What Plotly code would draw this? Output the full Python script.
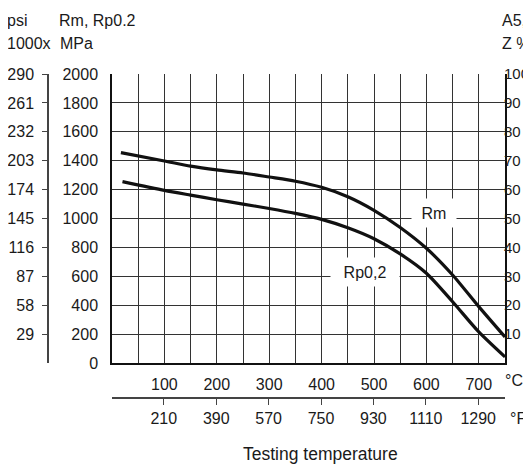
import plotly.graph_objects as go

# ---- data ----
temp_rm = [17, 100, 150, 200, 250, 300, 350, 400, 450, 500, 550, 600, 650, 700, 750]
rm_mpa = [1456, 1398, 1362, 1336, 1315, 1287, 1258, 1216, 1151, 1057, 938, 794, 609, 390, 180]
temp_rp = [20, 100, 150, 200, 250, 300, 350, 400, 450, 500, 550, 600, 650, 700, 750]
rp_mpa = [1255, 1195, 1162, 1130, 1100, 1069, 1035, 994, 936, 860, 755, 621, 424, 215, 42]

c_ticks = list(range(0, 751, 50))
c_labels = [str(v) if (v % 100 == 0 and 100 <= v <= 700) else "" for v in c_ticks]
f_labels = [210, 390, 570, 750, 930, 1110, 1290]
mpa_ticks = list(range(0, 2001, 200))
psi_ticks = [200, 400, 600, 800, 1000, 1200, 1400, 1600, 1800, 2000]
psi_labels = ["29", "58", "87", "116", "145", "174", "203", "232", "261", "290"]
pct_ticks = [10, 20, 30, 40, 50, 60, 70, 80, 90, 100]

FONT = "Liberation Sans, Arial, sans-serif"
FS = 16
TXT = "#1a1a1a"
GRID = "#333333"

OFF = 8  # page body margin
W, H = 531 - OFF, 465 - OFF
ML, MR, MT, MB = 30, 8, 66, 25
PW = W - ML - MR
PH = H - MT - MB


def px(x):
    # page pixel x -> paper fraction
    return (x - OFF - ML) / PW


def py(y):
    # page pixel y -> paper fraction
    return (H - MB - (y - OFF)) / PH


x_dom = [px(112), px(505)]
y_dom0 = py(363)

fig = go.Figure()
fig.add_trace(go.Scatter(x=temp_rm, y=rm_mpa, mode="lines",
                         line=dict(color="#111111", width=3.2, shape="spline", smoothing=0.7),
                         showlegend=False, hoverinfo="skip"))
fig.add_trace(go.Scatter(x=temp_rp, y=rp_mpa, mode="lines",
                         line=dict(color="#111111", width=3.2, shape="spline", smoothing=0.7),
                         showlegend=False, hoverinfo="skip"))

fig.update_layout(
    width=W, height=H,
    margin=dict(l=ML, r=MR, t=MT, b=MB, autoexpand=False),
    paper_bgcolor="white", plot_bgcolor="white",
    font=dict(family=FONT, size=FS, color=TXT),
    showlegend=False,
    xaxis=dict(domain=x_dom, range=[0, 750], tickmode="array",
               tickvals=c_ticks, ticktext=c_labels, automargin=False,
               showgrid=True, gridcolor=GRID, gridwidth=1,
               showline=True, linecolor="#111111", linewidth=2,
               ticks="outside", ticklen=6, tickcolor="rgba(0,0,0,0)",
               zeroline=False, fixedrange=True),
    yaxis=dict(domain=[y_dom0, 1], range=[0, 2000], tickmode="array",
               tickvals=mpa_ticks, ticktext=[str(v) for v in mpa_ticks], automargin=False,
               showgrid=True, gridcolor=GRID, gridwidth=1,
               showline=True, linecolor="#111111", linewidth=1.5, mirror=True,
               ticks="outside", ticklen=9, tickcolor="rgba(0,0,0,0)",
               zeroline=False, fixedrange=True),
    yaxis2=dict(overlaying="y", anchor="free", position=px(48), side="left",
                range=[0, 2000], tickmode="array", tickvals=psi_ticks, ticktext=psi_labels,
                showgrid=False, showline=True, linecolor="#444444", linewidth=1.5,
                automargin=False,
                ticks="outside", ticklen=5, tickcolor="#444444", zeroline=False,
                ticklabelstandoff=5),
    yaxis3=dict(overlaying="y", anchor="free", position=px(503), side="right",
                range=[0, 100], automargin=False,
                tickmode="array", tickvals=pct_ticks, ticktext=[str(v) for v in pct_ticks],
                tickfont=dict(size=15),
                showgrid=False, showline=False, ticks="", zeroline=False),
    xaxis2=dict(overlaying="x", anchor="free", position=py(398), side="bottom",
                domain=x_dom,
                range=[0, 750], tickmode="array", automargin=False,
                tickvals=[(f - 32) / 1.8 for f in f_labels], ticktext=[str(f) for f in f_labels],
                showgrid=False, showline=True, linecolor="#444444", linewidth=1.5,
                ticks="outside", ticklen=6, tickcolor="#444444", zeroline=False),
)

# invisible traces so overlay axes render
fig.add_trace(go.Scatter(x=[None], y=[None], xaxis="x2", yaxis="y2", showlegend=False))
fig.add_trace(go.Scatter(x=[None], y=[None], xaxis="x", yaxis="y3", showlegend=False))

ann = []


def paper_text(text, x, y, xanchor="left", size=FS):
    ann.append(dict(text=text, x=px(x), y=py(y), xref="paper", yref="paper",
                    xanchor=xanchor, yanchor="middle", showarrow=False,
                    font=dict(family=FONT, size=size, color=TXT)))


paper_text("psi", 5, 21)
paper_text("1000x", 5, 44)
paper_text("Rm, Rp0.2", 57, 21)
paper_text("MPa", 58, 44)
paper_text("A5,", 500, 21)
paper_text("Z %", 500, 44)
paper_text("°C", 514, 380, "center")
paper_text("°F", 518, 418, "center")
paper_text("Testing temperature", 320, 454, "center", 17.5)

ann.append(dict(text="Rm", x=615, y=1038, xref="x", yref="y", showarrow=False,
                bgcolor="white", width=42, height=26,
                font=dict(family=FONT, size=FS, color=TXT)))
ann.append(dict(text="Rp0,2", x=482, y=630, xref="x", yref="y", showarrow=False,
                bgcolor="white", width=66, height=26,
                font=dict(family=FONT, size=FS, color=TXT)))
fig.update_layout(annotations=ann)

fig.write_html("out.html")
